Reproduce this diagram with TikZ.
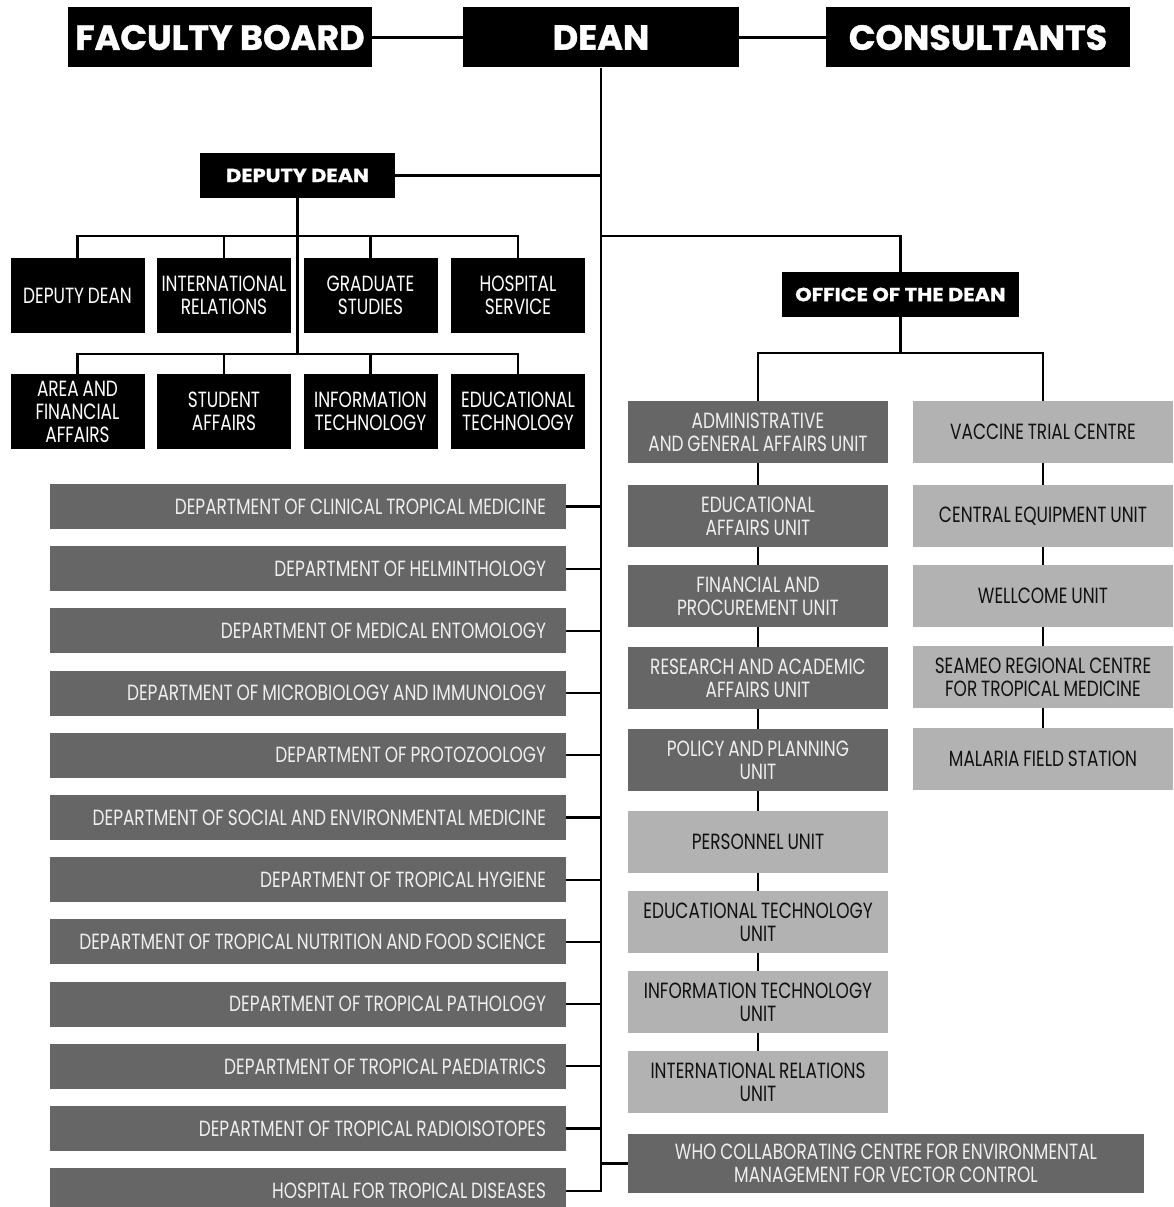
\documentclass[tikz,border=0pt]{standalone}
\usepackage{fontspec}
\newfontfamily\regf[FakeStretch=0.77,WordSpace=0.85]{Poppins}
\newfontfamily\headf[FakeBold=1.2]{Poppins}
\newfontfamily\midf[FakeBold=1.0,FakeStretch=1.1]{Poppins}
\definecolor{dgray}{HTML}{666666}
\definecolor{lgray}{HTML}{B2B2B2}
\definecolor{ltext}{HTML}{EEEEEE}
\definecolor{dtext}{HTML}{111111}
\newcommand{\rtext}[1]{\makebox[476pt][r]{#1}}
\tikzset{
  big/.style={fill=black, text=white, inner sep=0pt, minimum height=60pt,
    font=\headf\bfseries\fontsize{35}{35}\selectfont},
  mid/.style={fill=black, text=white, inner sep=0pt, minimum height=45pt,
    font=\midf\bfseries\fontsize{19}{19}\selectfont},
  blk/.style={fill=black, text=white, inner sep=0pt, minimum width=134pt, minimum height=75pt,
    align=center, font=\regf\fontsize{22}{23}\selectfont},
  unitd/.style={fill=dgray, text=ltext, inner sep=0pt, minimum width=260pt, minimum height=62pt,
    align=center, font=\regf\fontsize{22}{23}\selectfont},
  unitl/.style={fill=lgray, text=dtext, inner sep=0pt, minimum width=260pt, minimum height=62pt,
    align=center, font=\regf\fontsize{22}{23}\selectfont},
  dept/.style={fill=dgray, text=ltext, inner xsep=20pt, inner ysep=0pt,
    minimum height=45pt, font=\regf\fontsize{22}{23}\selectfont},
  con/.style={draw=black, line width=2.3pt},
}
\begin{document}
\begin{tikzpicture}[x=1pt,y=-1pt]
\useasboundingbox (0,0) rectangle (1173,1207);
\fill[white] (0,0) rectangle (1173,1207);
% top
\node[big, minimum width=304pt] (fb) at (220,37.5) {FACULTY BOARD};
\node[big, minimum width=276pt] (dean) at (601,37.5) {DEAN};
\node[big, minimum width=304pt] (cons) at (978,37.5) {CONSULTANTS};
\draw[con] (fb.east) -- (dean.west);
\draw[con] (dean.east) -- (cons.west);
% deputy dean
\node[mid, minimum width=195pt] (dep) at (297.5,175.5) {DEPUTY DEAN};
\coordinate (b1) at (297.5,236);
\coordinate (b2) at (297.5,354);
\node[blk] (r1a) at (77.5,295.5) {DEPUTY DEAN};
\node[blk] (r1b) at (224,295.5) {INTERNATIONAL\\RELATIONS};
\node[blk] (r1c) at (370.5,295.5) {GRADUATE\\STUDIES};
\node[blk] (r1d) at (518,295.5) {HOSPITAL\\SERVICE};
\node[blk] (r2a) at (77.5,411.5) {AREA AND\\FINANCIAL\\AFFAIRS};
\node[blk] (r2b) at (224,411.5) {STUDENT\\AFFAIRS};
\node[blk] (r2c) at (370.5,411.5) {INFORMATION\\TECHNOLOGY};
\node[blk] (r2d) at (518,411.5) {EDUCATIONAL\\TECHNOLOGY};
\draw[con] (dep.south) -- (b2);
\draw[con] (b1) -| (r1a.north);
\draw[con] (b1) -| (r1b.north);
\draw[con] (b1) -| (r1c.north);
\draw[con] (b1) -| (r1d.north);
\draw[con] (b2) -| (r2a.north);
\draw[con] (b2) -| (r2b.north);
\draw[con] (b2) -| (r2c.north);
\draw[con] (b2) -| (r2d.north);
% departments
\node[dept] (d1) at (308,506.5) {\rtext{DEPARTMENT OF CLINICAL TROPICAL MEDICINE}};
\node[dept] (d2) at (308,568.7) {\rtext{DEPARTMENT OF HELMINTHOLOGY}};
\node[dept] (d3) at (308,630.9) {\rtext{DEPARTMENT OF MEDICAL ENTOMOLOGY}};
\node[dept] (d4) at (308,693.1) {\rtext{DEPARTMENT OF MICROBIOLOGY AND IMMUNOLOGY}};
\node[dept] (d5) at (308,755.3) {\rtext{DEPARTMENT OF PROTOZOOLOGY}};
\node[dept] (d6) at (308,817.5) {\rtext{DEPARTMENT OF SOCIAL AND ENVIRONMENTAL MEDICINE}};
\node[dept] (d7) at (308,879.7) {\rtext{DEPARTMENT OF TROPICAL HYGIENE}};
\node[dept] (d8) at (308,941.9) {\rtext{DEPARTMENT OF TROPICAL NUTRITION AND FOOD SCIENCE}};
\node[dept] (d9) at (308,1004.1) {\rtext{DEPARTMENT OF TROPICAL PATHOLOGY}};
\node[dept] (d10) at (308,1066.3) {\rtext{DEPARTMENT OF TROPICAL PAEDIATRICS}};
\node[dept] (d11) at (308,1128.5) {\rtext{DEPARTMENT OF TROPICAL RADIOISOTOPES}};
\node[dept] (d12) at (308,1190.7) {\rtext{HOSPITAL FOR TROPICAL DISEASES}};
% spine
\draw[con] (dean.south) -- (dean.south |- d12.east) -- (d12.east);
\draw[con] (dep.east) -- (dep.east -| dean.south);
\foreach \d in {d1,d2,d3,d4,d5,d6,d7,d8,d9,d10,d11}{
  \draw[con] (\d.east) -- (\d.east -| dean.south);
}
% office of the dean
\node[mid, minimum width=237pt] (off) at (900.5,294.5) {OFFICE OF THE DEAN};
\coordinate (ob) at (601,236);
\coordinate (obar) at (900.5,353);
\draw[con] (ob) -| (off.north);
\draw[con] (off.south) -- (obar);
\node[unitd] (u1) at (758,432) {ADMINISTRATIVE\\AND GENERAL AFFAIRS UNIT};
\node[unitd] (u2) at (758,516) {EDUCATIONAL\\AFFAIRS UNIT};
\node[unitd] (u3) at (758,596) {FINANCIAL AND\\PROCUREMENT UNIT};
\node[unitd] (u4) at (758,678) {RESEARCH AND ACADEMIC\\AFFAIRS UNIT};
\node[unitd] (u5) at (758,760) {POLICY AND PLANNING\\UNIT};
\node[unitl] (u6) at (758,842) {PERSONNEL UNIT};
\node[unitl] (u7) at (758,922) {EDUCATIONAL TECHNOLOGY\\UNIT};
\node[unitl] (u8) at (758,1002) {INFORMATION TECHNOLOGY\\UNIT};
\node[unitl] (u9) at (758,1082) {INTERNATIONAL RELATIONS\\UNIT};
\node[unitl] (v1) at (1043,432) {VACCINE TRIAL CENTRE};
\node[unitl] (v2) at (1043,516) {CENTRAL EQUIPMENT UNIT};
\node[unitl] (v3) at (1043,596) {WELLCOME UNIT};
\node[unitl] (v4) at (1043,677) {SEAMEO REGIONAL CENTRE\\FOR TROPICAL MEDICINE};
\node[unitl] (v5) at (1043,759) {MALARIA FIELD STATION};
\draw[con] (obar) -| (u1.north);
\draw[con] (obar) -| (v1.north);
\foreach \a/\b in {u1/u2,u2/u3,u3/u4,u4/u5,u5/u6,u6/u7,u7/u8,u8/u9,v1/v2,v2/v3,v3/v4,v4/v5}{
  \draw[con] (\a.south) -- (\b.north);
}
\node[unitd, minimum width=516pt, minimum height=59pt] (who) at (886,1163.5) {WHO COLLABORATING CENTRE FOR ENVIRONMENTAL\\MANAGEMENT FOR VECTOR CONTROL};
\draw[con] (who.west) -- (who.west -| dean.south);
\end{tikzpicture}
\end{document}
